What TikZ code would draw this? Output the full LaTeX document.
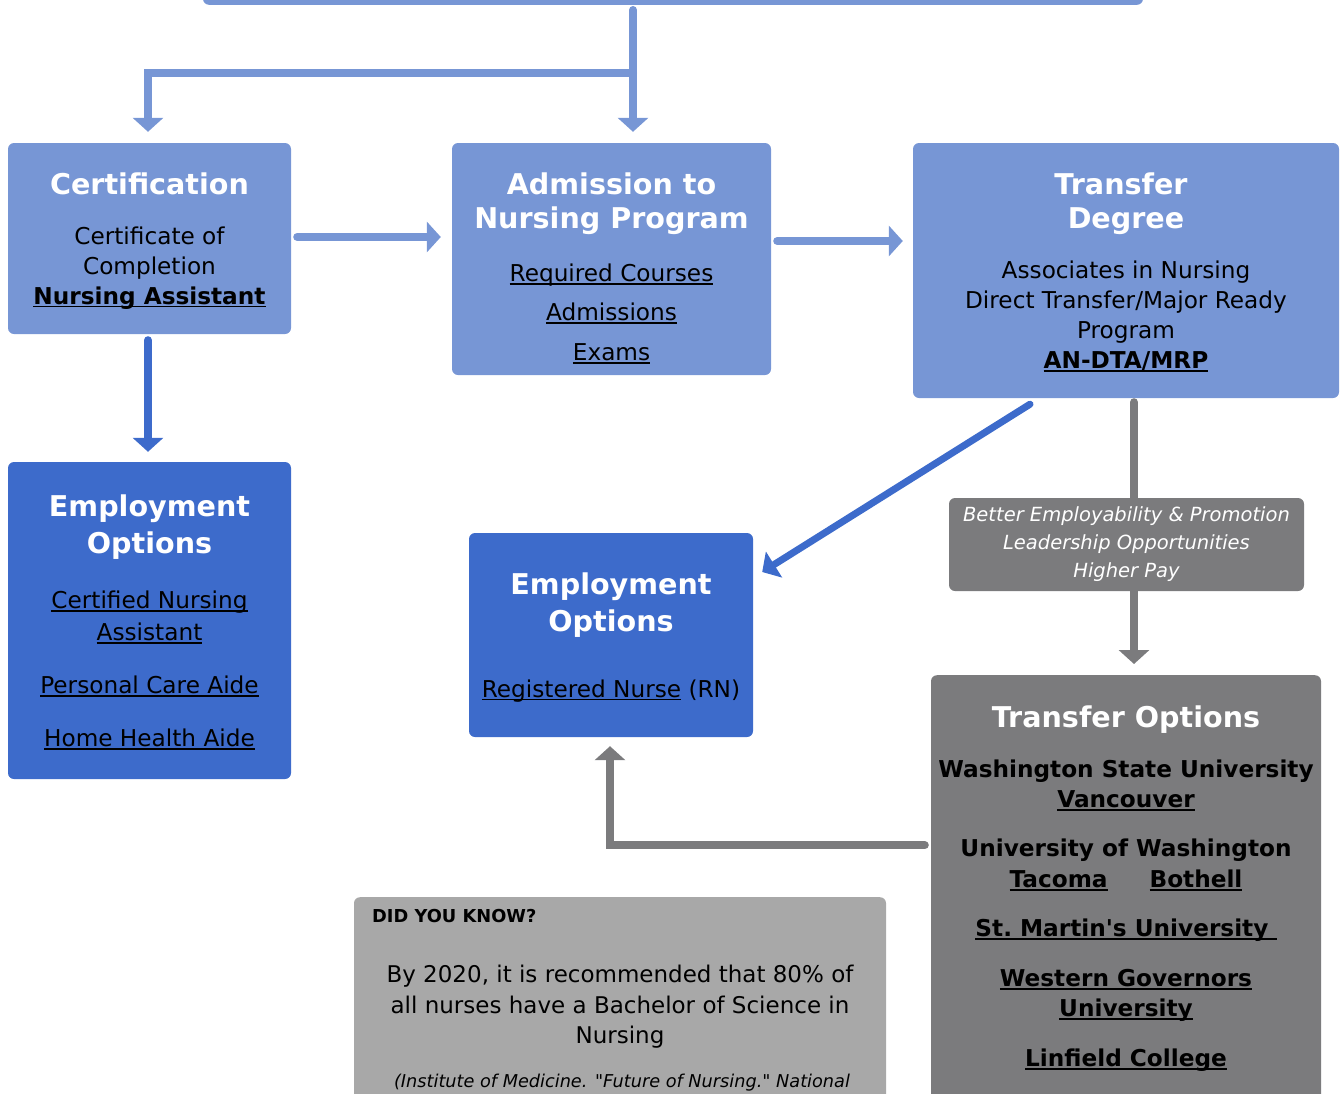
\documentclass[tikz,border=0pt]{standalone}
\usepackage{fontspec}
\setmainfont{DejaVu Sans}[Ligatures=TeXOff]
\usepackage{xcolor}
\usepackage{tikz}
\usetikzlibrary{arrows.meta,calc,positioning}

\definecolor{lblue}{HTML}{7796D5}
\definecolor{dblue}{HTML}{3D6BCB}
\definecolor{dgray}{HTML}{7B7B7D}
\definecolor{lgray}{HTML}{A8A8A8}

\newsavebox{\lnkbox}
\newcommand{\lnk}[1]{\sbox{\lnkbox}{#1}\rlap{\rule[-0.14em]{\wd\lnkbox}{0.075em}}\usebox{\lnkbox}}
\newcommand{\ttl}[1]{{\fontsize{28.6}{34}\selectfont\bfseries\color{white}#1}}
\newcommand{\topgap}[1]{\rule{0pt}{#1}}

\begin{document}
\begin{tikzpicture}[x=1pt, y=-1pt,
	box/.style={rectangle, rounded corners=6pt, inner sep=0pt, align=center, font=\fontsize{23.2}{30}\selectfont},
	lbox/.style={box, fill=lblue},
	dbox/.style={box, fill=dblue},
	gbox/.style={box, fill=dgray},
	txt/.style={inner sep=0pt, align=center},
	arr/.style={line width=8pt, line cap=round, -{Triangle[width=30pt,length=14pt]}}]

\useasboundingbox (0,0) rectangle (1342,1093);
\clip (0,0) rectangle (1342,1093);

\node[lbox, minimum width=940, minimum height=60, anchor=south] (top) at (673,5) {};

\node[lbox, minimum width=283, minimum height=191] (cert) at (149.5,238.5)
	{\topgap{26pt}\ttl{Certification}\\[20pt] Certificate of\\ Completion\\ \textbf{\lnk{Nursing Assistant}}};
\node[lbox, minimum width=319, minimum height=232] (admit) at (611.5,259)
	{\topgap{40pt}\ttl{Admission to}\\[4pt] \ttl{Nursing Program}\\[23pt] \lnk{Required Courses}\\[9pt] \lnk{Admissions}\\[10pt] \lnk{Exams}};
\node[lbox, minimum width=426, minimum height=255] (tdeg) at (1126,270.5)
	{\topgap{26pt}\ttl{Transfer\ }\\[4pt] \ttl{Degree}\\[20pt] Associates in Nursing\\ Direct Transfer/Major Ready\\ Program\\ \textbf{\lnk{AN-DTA/MRP}}};
\node[dbox, minimum width=283, minimum height=317] (empl) at (149.5,620.5)
	{\topgap{26pt}\ttl{Employment}\\[7pt] \ttl{Options}\\[25pt] \lnk{Certified Nursing}\\[2pt] \lnk{Assistant}\\[23pt] \lnk{Personal Care Aide}\\[23pt] \lnk{Home Health Aide}};
\node[dbox, minimum width=284, minimum height=204] (empm) at (611,635)
	{\topgap{26pt}\ttl{Employment}\\[7pt] \ttl{Options}\\[36pt] \lnk{Registered Nurse} (RN)};

\node[gbox, minimum width=390, minimum height=440, anchor=north] (opts) at (1126,675) {};
\node[txt, anchor=north, font=\fontsize{23.2}{30}\selectfont\bfseries] (optlist) at (1126,706)
	{\ttl{Transfer Options}\\[20pt] Washington State University\\ \lnk{Vancouver}\\[19pt]
	University of Washington\\[1pt] \lnk{Tacoma}\hspace{42pt}\lnk{Bothell}\\[19pt]
	\lnk{St.~Martin's University\ }\\[20pt] \lnk{Western Governors}\\ \lnk{University}\\[20pt]
	\lnk{Linfield College}};

\node[box, fill=lgray, minimum width=532, minimum height=250, anchor=north] (dyk) at (620,897) {};
\node[txt, anchor=west, font=\fontsize{17.8}{20}\selectfont\bfseries] (dyktitle) at (372,916) {DID YOU KNOW?};
\node[txt, anchor=north, font=\fontsize{23}{30.5}\selectfont] (dyktext) at (620,965)
	{By 2020, it is recommended that 80\% of\\ all nurses have a Bachelor of Science in\\ Nursing};
\node[txt, font=\fontsize{17.7}{22}\selectfont\itshape] (dykcite) at (622,1083)
	{(Institute of Medicine. "Future of Nursing." National};

\coordinate (fork) at (633,73);
\draw[arr, lblue] ($(top.south -| fork)+(0,5)$) -- ($(admit.north -| fork)+(0,-11)$);
\draw[arr, lblue] (fork) -| ($(cert.north)+(-1.5,-11)$);
\draw[arr, lblue] ($(cert.east)+(6,-1.5)$) -- ($(admit.west)+(-11,-22)$);
\draw[arr, lblue] ($(admit.east)+(6,-18)$) -- ($(tdeg.west)+(-10,-29.5)$);
\draw[arr, dblue] ($(cert.south)+(-1.5,6)$) -- ($(empl.north)+(-1.5,-10)$);
\draw[arr, dblue, line width=7pt] ($(tdeg.south)+(-96,6)$) -- ($(empm.east)+(9,-63)$);
\draw[arr, dgray] ($(tdeg.south)+(8,4)$) -- ($(opts.north)+(8,-11)$);
\draw[arr, dgray] ($(opts.west)+(-6,-50)$) -| ($(empm.south)+(-1,9)$);

\node[gbox, minimum width=355, minimum height=93, text=white, font=\fontsize{19.5}{28}\selectfont\itshape] (perks) at (1126.5,544.5)
	{Better Employability \& Promotion\\ Leadership Opportunities\\ Higher Pay};

\end{tikzpicture}
\end{document}
